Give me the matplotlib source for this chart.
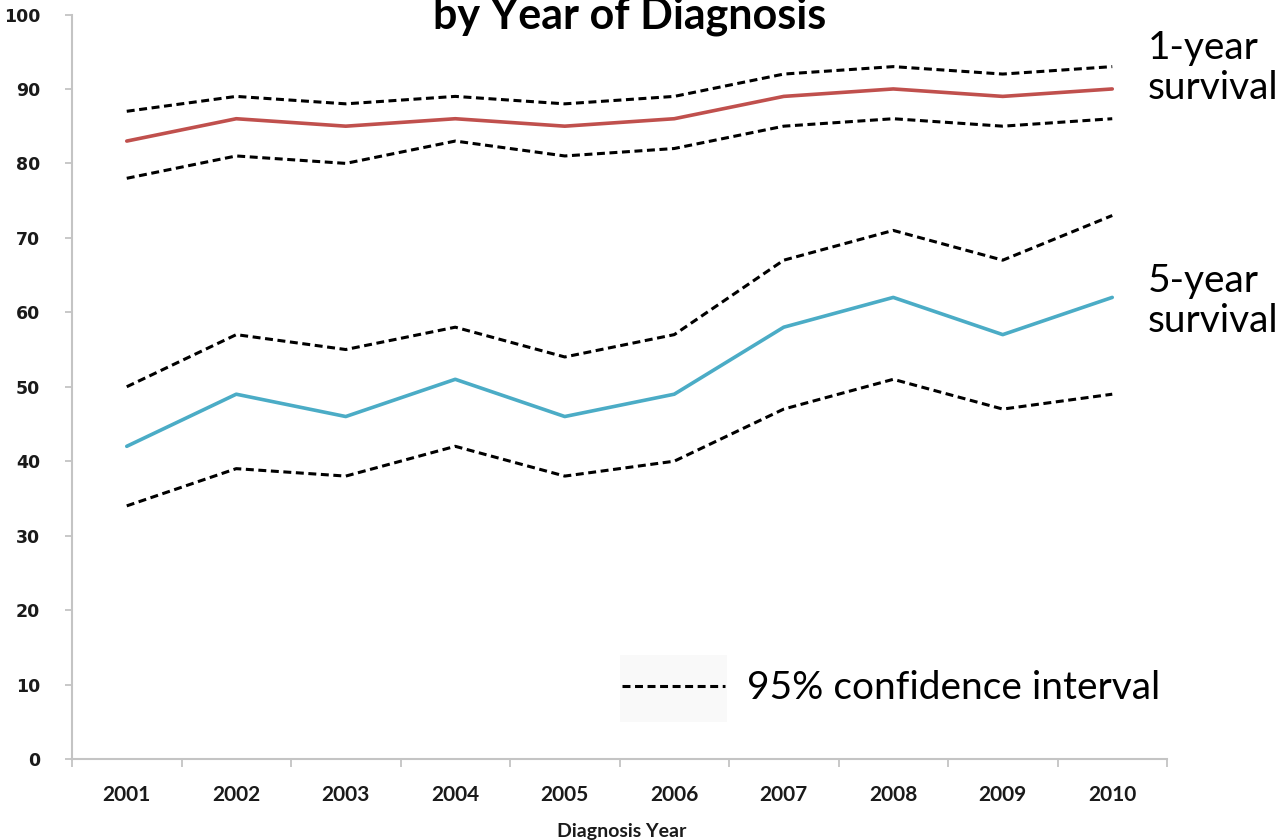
import matplotlib
matplotlib.use("Agg")
import matplotlib.pyplot as plt
from matplotlib.lines import Line2D
from matplotlib.patches import Rectangle
from matplotlib.ticker import FixedLocator, NullFormatter

years = ["2001", "2002", "2003", "2004", "2005", "2006", "2007", "2008", "2009", "2010"]

one_year = [83, 86, 85, 86, 85, 86, 89, 90, 89, 90]
one_year_upper = [87, 89, 88, 89, 88, 89, 92, 93, 92, 93]
one_year_lower = [78, 81, 80, 83, 81, 82, 85, 86, 85, 86]

five_year = [42, 49, 46, 51, 46, 49, 58, 62, 57, 62]
five_year_upper = [50, 57, 55, 58, 54, 57, 67, 71, 67, 73]
five_year_lower = [34, 39, 38, 42, 38, 40, 47, 51, 47, 49]

y_ticks = [0, 10, 20, 30, 40, 50, 60, 70, 80, 90, 100]

RED = "#c0504d"
TEAL = "#4bacc6"
AXIS_GREY = "#c4c4c4"
TEXT = "#1a1a1a"
CI_STYLE = dict(color="black", lw=2.2, dashes=(2.6, 1.5))

W, H = 1284, 840


def fx(px):
    return px / W


def fy(py):
    return 1 - py / H


fig = plt.figure(figsize=(W / 100, H / 100), dpi=100)
ax = fig.add_axes([fx(72), fy(759), fx(1167) - fx(72), fy(14.5) - fy(759)])

x = list(range(len(years)))

ax.plot(x, one_year_upper, **CI_STYLE)
ax.plot(x, one_year_lower, **CI_STYLE)
ax.plot(x, one_year, color=RED, lw=2.6, solid_capstyle="round")

ax.plot(x, five_year_upper, **CI_STYLE)
ax.plot(x, five_year_lower, **CI_STYLE)
ax.plot(x, five_year, color=TEAL, lw=2.6, solid_capstyle="round")

ax.set_xlim(-0.5, len(years) - 0.5)
ax.set_ylim(0, 100)

for side in ("top", "right"):
    ax.spines[side].set_visible(False)
for side in ("left", "bottom"):
    ax.spines[side].set_color(AXIS_GREY)
    ax.spines[side].set_linewidth(1.5)

# y axis
ax.set_yticks(y_ticks)
ax.set_yticklabels([str(v) for v in y_ticks], fontfamily="DejaVu Sans",
                   fontweight="bold", fontsize=12.5, color=TEXT)
ax.tick_params(axis="y", direction="out", length=5, width=1.3, color=AXIS_GREY, pad=18)

# x axis: boundary ticks between categories, labels at category centres
ax.xaxis.set_major_locator(FixedLocator([i - 0.5 for i in range(len(years) + 1)]))
ax.xaxis.set_major_formatter(NullFormatter())
ax.xaxis.set_minor_locator(FixedLocator(x))
ax.set_xticklabels(years, minor=True, fontfamily="Lato", fontweight="bold",
                   fontsize=15, color=TEXT)
ax.tick_params(axis="x", which="major", direction="out", length=5.8, width=1.3,
               color=AXIS_GREY)
ax.tick_params(axis="x", which="minor", length=0, pad=19)

fig.text(fx(622), fy(832), "Diagnosis Year", ha="center", va="center",
         fontfamily="Lato", fontweight="bold", fontsize=14, color=TEXT)

# title, partly above the canvas
fig.text(fx(630), fy(28), "by Year of Diagnosis", ha="center", va="baseline",
         fontfamily="Lato", fontweight="bold", fontsize=31, color="black")

# series annotations
ann = dict(fontfamily="Lato", fontsize=28, color="black", ha="left",
           va="baseline")
fig.text(fx(1148), fy(59), "1-year", **ann)
fig.text(fx(1148), fy(99), "survival", **ann)
fig.text(fx(1148), fy(292), "5-year", **ann)
fig.text(fx(1148), fy(332), "survival", **ann)

# confidence-interval key
fig.add_artist(Rectangle((fx(620), fy(722)), fx(727) - fx(620), fy(655) - fy(722),
                         transform=fig.transFigure, facecolor="#f9f9f9",
                         edgecolor="none", zorder=3))
fig.add_artist(Line2D([fx(622), fx(725)], [fy(686), fy(686)],
                      transform=fig.transFigure, zorder=4, **CI_STYLE))
fig.text(fx(747), fy(699), "95% confidence interval", fontfamily="Lato",
         fontsize=28, ha="left", va="baseline", color="black", zorder=4)

fig.savefig("out.png", dpi=100)
